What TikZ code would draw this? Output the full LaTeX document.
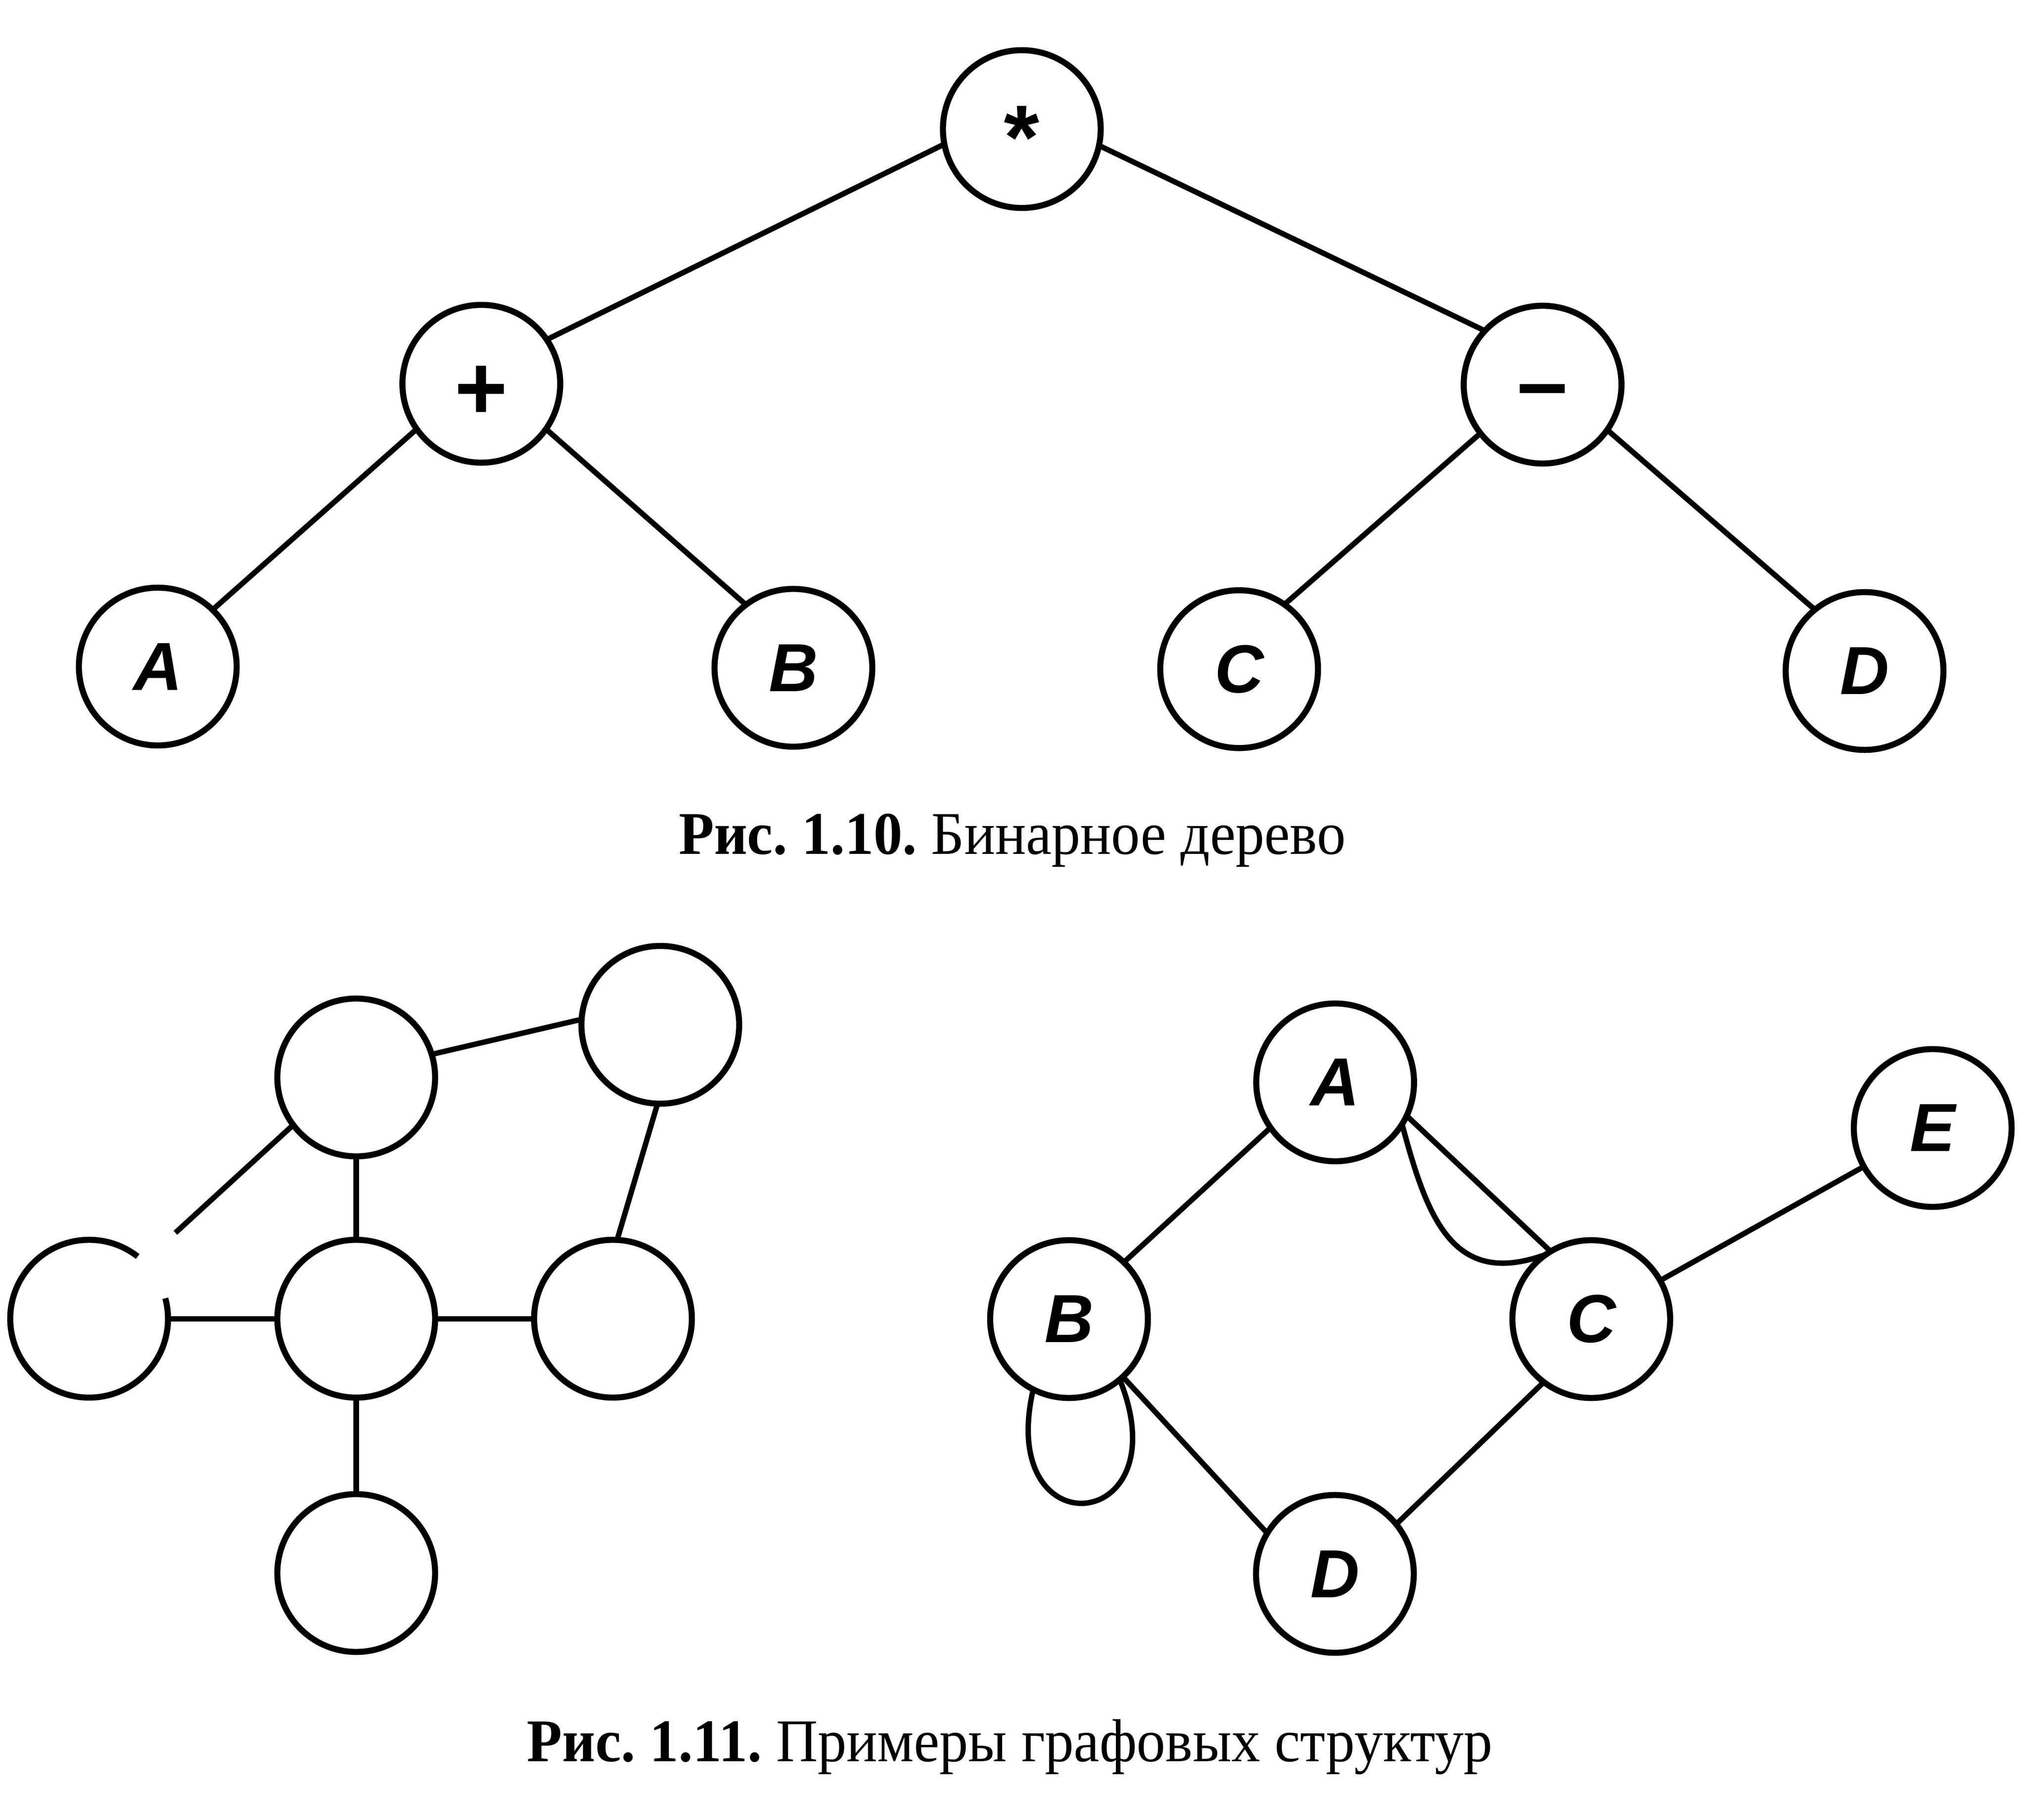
\documentclass[tikz,border=0pt]{standalone}
\usepackage{fontspec}
\setmainfont{Liberation Serif}[FakeStretch=0.95]
\newfontfamily\nodesans{Liberation Sans}
\newcommand{\vertexfont}{\nodesans\bfseries\itshape\fontsize{15.7}{18}\selectfont}
\newcommand{\opfont}{\nodesans\bfseries\fontsize{21}{24}\selectfont}
\newcommand{\capfont}{\frenchspacing\fontsize{14}{16}\selectfont}
\begin{document}
\begin{tikzpicture}[
    vertex/.style={circle, draw=black, line width=1.4pt, minimum size=1.28cm, inner sep=0pt, outer sep=0pt, font=\vertexfont},
    edge/.style={black, line width=1.25pt},
    caption/.style={anchor=base, inner sep=0pt, font=\capfont}]
        \useasboundingbox (0,0) rectangle (16.437,-14.763);
        \node[vertex, font=\opfont, text height=18.2pt, text depth=0pt] (mul) at (8.290,-1.047) {*};
        \node[vertex, font=\opfont, text height=16.4pt, text depth=0pt] (plus) at (3.905,-3.113) {+};
        \node[vertex, font=\opfont, text height=13.2pt, text depth=0pt] (minus) at (12.515,-3.120) {–};
        \node[vertex] (ta) at (1.280,-5.407) {A};
        \node[vertex] (tb) at (6.437,-5.417) {B};
        \node[vertex] (tc) at (10.053,-5.428) {C};
        \node[vertex] (td) at (15.127,-5.443) {D};
        \draw[edge] (mul.191) -- (plus.34);
        \draw[edge] (mul.-12) -- (minus.137);
        \draw[edge] (plus.215) -- (ta.46);
        \draw[edge] (plus.-35) -- (tb.127);
        \draw[edge] (minus.218) -- (tc.55);
        \draw[edge] (minus.-35) -- (td.129);
        \node[caption] (cap1) at (8.213,-6.927) {{\bfseries Рис. 1.10.} Бинарное дерево};

        \node[vertex] (ga) at (2.890,-8.740) {};
        \node[vertex] (gb) at (5.357,-8.313) {};
        \node[vertex, draw=none] (gc) at (0.723,-10.697) {};
        \node[vertex] (gd) at (2.890,-10.697) {};
        \node[vertex] (ge) at (4.973,-10.697) {};
        \node[vertex] (gf) at (2.890,-12.760) {};
        \coordinate (gcgap) at (1.423,-10.0);
        \draw[black, line width=1.4pt] (gc.52) arc[start angle=52, end angle=375, radius=0.64cm];
        \draw[edge] (ga.17) -- (gb.176);
        \draw[edge] (gb.268) -- (ge.87);
        \draw[edge] (ga.217) -- (gcgap);
        \draw[edge] (ga) -- (gd);
        \draw[edge] (gc) -- (gd);
        \draw[edge] (gd) -- (ge);
        \draw[edge] (gd) -- (gf);

        \node[vertex] (A) at (10.832,-8.780) {A};
        \node[vertex] (B) at (8.673,-10.700) {B};
        \node[vertex] (C) at (12.910,-10.700) {C};
        \node[vertex] (D) at (10.830,-12.767) {D};
        \node[vertex] (E) at (15.680,-9.150) {E};
        \draw[edge] (A.215) -- (B.46);
        \draw[edge] (A.-25) -- (C.121);
        \draw[edge] (A.-32) to[out=-75, in=200, looseness=1.3] (C.125);
        \draw[edge] (B.-47) -- (D.149);
        \draw[edge] (C.233) -- (D.39);
        \draw[edge] (C) -- (E);
        \draw[edge] (B.243) to[out=257, in=-68, distance=1.35cm] (B.-50);
        \node[caption] (cap2) at (8.192,-14.290) {{\bfseries Рис. 1.11.} Примеры графовых структур};
    \end{tikzpicture}
\end{document}
